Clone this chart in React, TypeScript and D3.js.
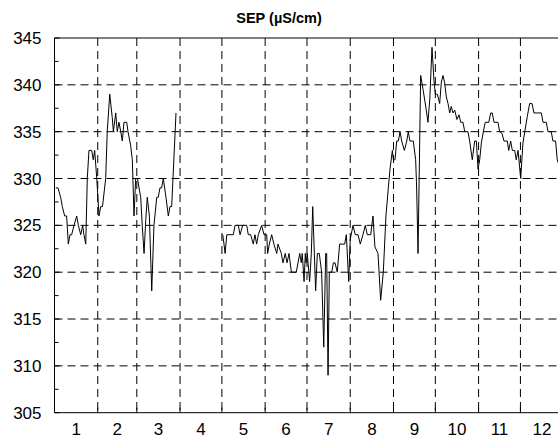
import React from "react";
import * as d3 from "d3";

const title = "SEP (µS/cm)";
const monthLabels = ["1", "2", "3", "4", "5", "6", "7", "8", "9", "10", "11", "12"];
const monthStarts = [0, 31, 59, 90, 120, 151, 181, 212, 243, 273, 304, 334, 365];
const yTicks = [305, 310, 315, 320, 325, 330, 335, 340, 345];
const yMinorTicks = [307.5, 312.5, 317.5, 322.5, 327.5, 332.5, 337.5, 342.5];

// day of year (fractional) and SEP value; null = gap in record
const days: number[] = [
  0.9, 2.5, 4.4, 5.6, 7.3, 8.7, 9.9, 11.1, 12.3, 14.0, 15.9, 17.1, 18.8, 20.2, 21.1, 22.4,
  23.5, 24.7, 26.7, 27.8, 28.8, 30.3, 31.9, 33.1, 34.4, 36.7, 37.8, 39.6, 41.4, 42.2, 43.9,
  45.0, 46.2, 47.5, 48.6, 49.8, 51.8, 52.7, 54.6, 55.8, 57.0, 58.2, 59.5, 60.6, 61.8, 62.9,
  64.2, 65.4, 66.5, 68.0, 69.7, 71.3, 73.3, 74.4, 75.6, 76.8, 78.0, 79.9, 81.6, 82.8, 84.0,
  87.1,
  100,
  120.6, 121.5, 122.3, 123.5, 128.2, 129.4, 131.8, 133.0, 134.9, 137.8, 138.9, 140.6, 142.5,
  143.7, 144.9, 146.1, 148.5, 150.2, 152.1, 152.8, 154.0, 155.7, 157.3, 159.3, 160.2, 162.6,
  163.8, 165.4, 166.7, 168.1, 169.8, 173.3, 175.8, 176.9, 177.6, 178.9, 179.8, 180.3, 181.2,
  182.9, 184.1, 185.1, 187.2, 188.4, 189.8, 191.5, 193.0, 194.4, 195.1, 196.1, 197.0, 198.7,
  199.9, 201.1, 202.7, 204.4, 208.0, 209.2, 210.9, 212.0, 214.0, 215.6, 217.6, 219.2, 221.1,
  222.8, 224.2, 226.7, 228.3, 229.7, 231.9, 233.8, 235.7, 237.6, 239.3, 240.5, 242.2, 242.9,
  244.1, 245.3, 246.5, 247.7, 248.9, 250.8, 252.5, 253.6, 254.8, 257.2, 258.9, 259.6, 260.6,
  262.5, 264.2, 266.5, 267.7, 269.0, 270.6, 272.0, 273.0, 274.4, 276.1, 277.3, 278.5, 279.7,
  280.9, 282.1, 283.3, 284.4, 285.7, 286.9, 288.5, 290.0, 291.2, 292.8, 294.1, 296.4, 297.6,
  299.5, 301.2, 302.4, 303.6, 304.8, 306.0, 307.9, 308.8, 311.3, 312.7, 313.8, 315.1, 317.9,
  319.1, 320.8, 322.2, 324.6, 325.6, 327.0, 328.2, 329.9, 331.0, 332.3, 334.2, 335.8, 337.1,
  338.9, 340.6, 342.3, 343.7, 346.1, 349.0, 350.2, 352.5, 353.8, 356.1, 357.3, 359.2, 360.4,
  362.5,
];
const values: (number | null)[] = [
  329, 329, 328, 327, 326, 326, 323, 324, 324, 325, 326, 325, 324, 325, 324, 323,
  330, 333, 333, 332, 333, 330, 326, 327, 327, 330, 335, 339, 336.5, 335, 337,
  335, 336, 335, 334, 336, 336, 335, 333.5, 332, 326, 330, 330, 329, 328, 325,
  322, 325.5, 328, 326, 318, 325, 328, 328, 329, 329, 330, 328, 326, 327, 327,
  337,
  null,
  324, 323, 322, 324, 324, 325, 325, 324, 325, 325, 324, 324, 323,
  324, 323, 324, 325, 324, 324, 322, 323, 324, 323, 322, 323, 322,
  321, 322, 321, 322, 320, 320, 322, 321, 322, 319, 322, 321, 322,
  319, 322, 327, 318, 322, 322, 320, 312, 322, 322, 309, 320, 320,
  321, 321, 320, 323, 323, 324, 319, 323.5, 325, 324, 324, 323, 324,
  325, 324, 324, 326, 322.7, 322, 317, 320, 326, 329, 331, 333, 332,
  332, 334, 334, 335, 334, 333, 334, 335, 334, 334, 332, 329, 322,
  341, 339.5, 337.3, 336, 338.4, 344, 340.5, 339, 339, 338, 340.3, 341, 340.2,
  338.7, 338, 337, 337.7, 337, 337.3, 336.3, 336.8, 336, 336, 335, 335, 334,
  332, 334, 334, 331, 332, 333.8, 335.4, 336, 336, 337, 337, 336, 336,
  335, 334.8, 334, 334, 333, 334, 333, 333, 332, 333, 330, 333.8, 335,
  336.6, 338, 338, 337, 337, 337, 336, 336, 335, 335, 334, 334, 332,
  331,
];

const W = 558;
const H = 439;
const left = 54.5;
const top = 38;
const bottom = 412.7;
const pxPerDay = 1.395;
const FONT = "'Liberation Sans', Arial, Helvetica, sans-serif";

export default function App() {
  const x = d3.scaleLinear().domain([0, 365]).range([left, left + 365 * pxPerDay]);
  const y = d3.scaleLinear().domain([305, 345]).range([bottom, top]);
  const right = x(365);

  const pts = days.map((d, i) => ({ d, v: values[i] }));
  const line = d3
    .line<{ d: number; v: number | null }>()
    .defined((p) => p.v != null)
    .x((p) => x(p.d))
    .y((p) => y(p.v as number));

  const gridDash = "8,5";
  return (
    <svg
      width={W}
      height={H}
      style={{ position: "absolute", left: 0, top: 0, background: "#fff" }}
      fontFamily={FONT}
    >
      <rect x={0} y={0} width={W} height={H} fill="#fff" />
      <text x={279} y={23} textAnchor="middle" fontWeight="bold" fontSize={14.5} fill="#000">
        {title}
      </text>
      {/* horizontal gridlines */}
      {yTicks.slice(1, -1).map((t) => (
        <line key={"h" + t} x1={left} x2={right} y1={y(t)} y2={y(t)} stroke="#000" strokeWidth={1} strokeDasharray={gridDash} />
      ))}
      {/* vertical gridlines at month boundaries */}
      {monthStarts.slice(1, -1).map((m) => (
        <line key={"v" + m} x1={x(m)} x2={x(m)} y1={top} y2={bottom} stroke="#000" strokeWidth={1} strokeDasharray={gridDash} />
      ))}
      {/* axes frame */}
      <line x1={left} x2={left} y1={top} y2={bottom} stroke="#000" strokeWidth={1} />
      <line x1={left} x2={right} y1={bottom} y2={bottom} stroke="#000" strokeWidth={1} />
      <line x1={left} x2={right} y1={top} y2={top} stroke="#000" strokeWidth={1} />
      <line x1={right} x2={right} y1={top} y2={bottom} stroke="#000" strokeWidth={1} />
      {/* y ticks */}
      {yTicks.map((t) => (
        <g key={"yt" + t}>
          <line x1={left} x2={left + 5} y1={y(t)} y2={y(t)} stroke="#000" />
          <text x={left - 13} y={y(t)} dy="0.36em" textAnchor="end" fontSize={17} fill="#000">
            {t}
          </text>
        </g>
      ))}
      {yMinorTicks.map((t) => (
        <line key={"ym" + t} x1={left} x2={left + 4} y1={y(t)} y2={y(t)} stroke="#000" />
      ))}
      {/* x ticks */}
      {monthStarts.slice(1, -1).map((m) => (
        <line key={"xt" + m} x1={x(m)} x2={x(m)} y1={bottom} y2={bottom - 5} stroke="#000" />
      ))}
      {monthLabels.map((lab, i) => (
        <text
          key={"xl" + lab}
          x={x((monthStarts[i] + monthStarts[i + 1]) / 2)}
          y={435}
          textAnchor="middle"
          fontSize={17}
          fill="#000"
        >
          {lab}
        </text>
      ))}
      <path d={line(pts) || ""} fill="none" stroke="#000" strokeWidth={1} />
    </svg>
  );
}
